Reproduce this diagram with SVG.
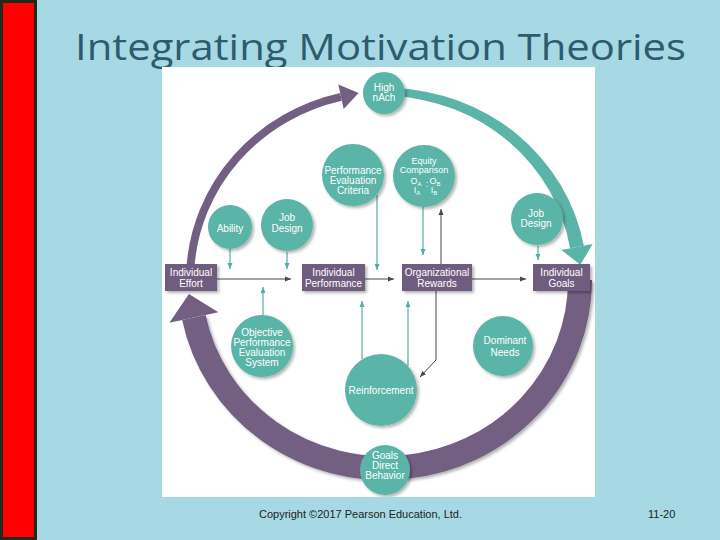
<svg xmlns="http://www.w3.org/2000/svg" width="720" height="540" viewBox="0 0 720 540">
<defs>
<style>
.nd circle{fill:#5AB4A8;filter:url(#sh)}
.bx rect{fill:#6F5B7E;filter:url(#sh)}
.t{font-family:"Liberation Sans",Arial,sans-serif;font-size:10px;fill:#fff;text-anchor:middle}
.s{font-size:9px}
.dk{stroke:#4B4453;stroke-width:1;fill:none;marker-end:url(#ad)}
.tl{stroke:#52AEA1;stroke-width:1.2;fill:none;marker-end:url(#at)}
.pu{fill:none;stroke:#735F82}
.pf{fill:#735F82}
</style>
<filter id="sh" x="-20%" y="-20%" width="150%" height="150%"><feDropShadow dx="2" dy="2" stdDeviation="1.5" flood-color="#000" flood-opacity="0.3"/></filter>
<marker id="ad" markerWidth="6" markerHeight="6" refX="6" refY="3" orient="auto" markerUnits="userSpaceOnUse"><path d="M0,0.5 L6,3 L0,5.5 z" fill="#4B4453"/></marker>
<marker id="at" markerWidth="6" markerHeight="6" refX="6" refY="3" orient="auto" markerUnits="userSpaceOnUse"><path d="M0,0.5 L6,3 L0,5.5 z" fill="#52AEA1"/></marker>
<clipPath id="pc"><rect x="162" y="67" width="433" height="430"/></clipPath>
</defs>
<rect width="720" height="540" fill="#A6D9E4"/>
<rect x="1.5" y="1.5" width="34" height="537" fill="#FF0000" stroke="#1E2B16" stroke-width="3"/>
<text x="75" y="60" font-family="'Open Sans',sans-serif" font-size="37" fill="#2E5B6E" textLength="611" lengthAdjust="spacingAndGlyphs">Integrating Motivation Theories</text>
<rect x="162" y="67" width="433" height="430" fill="#FFFFFF"/>
<g clip-path="url(#pc)">
<g id="connectors">
<path class="pu" stroke-width="24" d="M 580 280 A 195 188 0 0 1 193.9 317.5" filter="url(#sh)"/>
<polygon class="pf" points="218.4,312.3 169.4,322.7 188.9,294"/>
<path class="pu" stroke-width="8" d="M 190.5 266.9 A 195 188 0 0 1 341 96.8"/>
<polygon class="pf" points="343.7,109 338.3,84.6 358.6,92.9"/>
<path fill="#5AB4A8" d="M 391.8 88.1 A 200.5 193.5 0 0 1 583.9 245.7 L 570.1 248.3 A 189.5 182.5 0 0 0 391.8 96.1 Z"/>
<polygon fill="#5AB4A8" points="592.7,244.1 561.3,249.9 580.3,264.7"/>
<line class="dk" x1="217" y1="279" x2="291" y2="279"/>
<line class="dk" x1="365" y1="279" x2="394" y2="279"/>
<line class="dk" x1="472" y1="279" x2="526" y2="279"/>
<line class="dk" x1="441" y1="264" x2="441" y2="209"/>
<polyline class="dk" points="436,291 436,360 420,377"/>
<line class="tl" x1="230" y1="249" x2="230" y2="269"/>
<line class="tl" x1="287" y1="252" x2="287" y2="269"/>
<line class="tl" x1="377" y1="195" x2="377" y2="270"/>
<line class="tl" x1="423" y1="207" x2="423" y2="255"/>
<line class="tl" x1="362" y1="359" x2="362" y2="301"/>
<line class="tl" x1="408" y1="366" x2="408" y2="301"/>
<line class="tl" x1="263" y1="315" x2="263" y2="287"/>
<line class="tl" x1="538" y1="246" x2="538" y2="260"/>
</g>
<g id="n-high" class="nd"><circle cx="384" cy="93" r="21"/><text class="t" x="384" y="90.5">High</text><text class="t" x="384" y="100.5">nAch</text></g>
<g id="n-pec" class="nd"><circle cx="353" cy="175" r="31"/><text class="t" x="353" y="173.5">Performance</text><text class="t" x="353" y="183.5">Evaluation</text><text class="t" x="353" y="193.5">Criteria</text></g>
<g id="n-equity" class="nd"><circle cx="424" cy="176" r="31"/><text class="t s" x="424" y="164">Equity</text><text class="t s" x="424" y="173">Comparison</text>
<text class="t s" x="416" y="184">O<tspan font-size="6" dy="1.5">A</tspan></text><text class="t s" x="427" y="187">:</text><text class="t s" x="435" y="184">O<tspan font-size="6" dy="1.5">B</tspan></text>
<text class="t s" x="417" y="193">I<tspan font-size="6" dy="1.5">A</tspan></text><text class="t s" x="434" y="193">I<tspan font-size="6" dy="1.5">B</tspan></text></g>
<g id="n-ability" class="nd"><circle cx="230" cy="227" r="22"/><text class="t" x="230" y="231.5">Ability</text></g>
<g id="n-jobdesign1" class="nd"><circle cx="287" cy="225" r="26"/><text class="t" x="287" y="220.5">Job</text><text class="t" x="287" y="231.5">Design</text></g>
<g id="n-jobdesign2" class="nd"><circle cx="537" cy="219" r="26"/><text class="t" x="536" y="216.5">Job</text><text class="t" x="536" y="226.5">Design</text></g>
<g id="n-opes" class="nd"><circle cx="262" cy="346" r="31"/><text class="t" x="262" y="335.5">Objective</text><text class="t" x="262" y="345.5">Performance</text><text class="t" x="262" y="355.5">Evaluation</text><text class="t" x="262" y="365.5">System</text></g>
<g id="n-reinf" class="nd"><circle cx="381" cy="390" r="36"/><text class="t" x="381" y="393.5">Reinforcement</text></g>
<g id="n-dominant" class="nd"><circle cx="503" cy="346" r="30"/><text class="t" x="505" y="343.5">Dominant</text><text class="t" x="505" y="355.5">Needs</text></g>
<g id="n-goalsdir" class="nd"><circle cx="385" cy="470" r="25"/><text class="t" x="385" y="458.5">Goals</text><text class="t" x="385" y="468.5">Direct</text><text class="t" x="385" y="478.5">Behavior</text></g>
<g id="b-effort" class="bx"><rect x="165" y="264" width="52" height="27"/><text class="t" x="191" y="275.5">Individual</text><text class="t" x="191" y="286.5">Effort</text></g>
<g id="b-perf" class="bx"><rect x="302" y="264" width="63" height="27"/><text class="t" x="333.5" y="275.5">Individual</text><text class="t" x="333.5" y="286.5">Performance</text></g>
<g id="b-rewards" class="bx"><rect x="402" y="264" width="70" height="27"/><text class="t" x="437" y="275.5">Organizational</text><text class="t" x="437" y="286.5">Rewards</text></g>
<g id="b-goals" class="bx"><rect x="533" y="264" width="57" height="27"/><text class="t" x="561.5" y="275.5">Individual</text><text class="t" x="561.5" y="286.5">Goals</text></g>
</g>
<text x="259" y="518" font-family="'Liberation Sans',Arial,sans-serif" font-size="11" fill="#222" textLength="203" lengthAdjust="spacingAndGlyphs">Copyright ©2017 Pearson Education, Ltd.</text>
<text x="648" y="518" font-family="'Liberation Sans',Arial,sans-serif" font-size="11" fill="#222">11-20</text>
</svg>
